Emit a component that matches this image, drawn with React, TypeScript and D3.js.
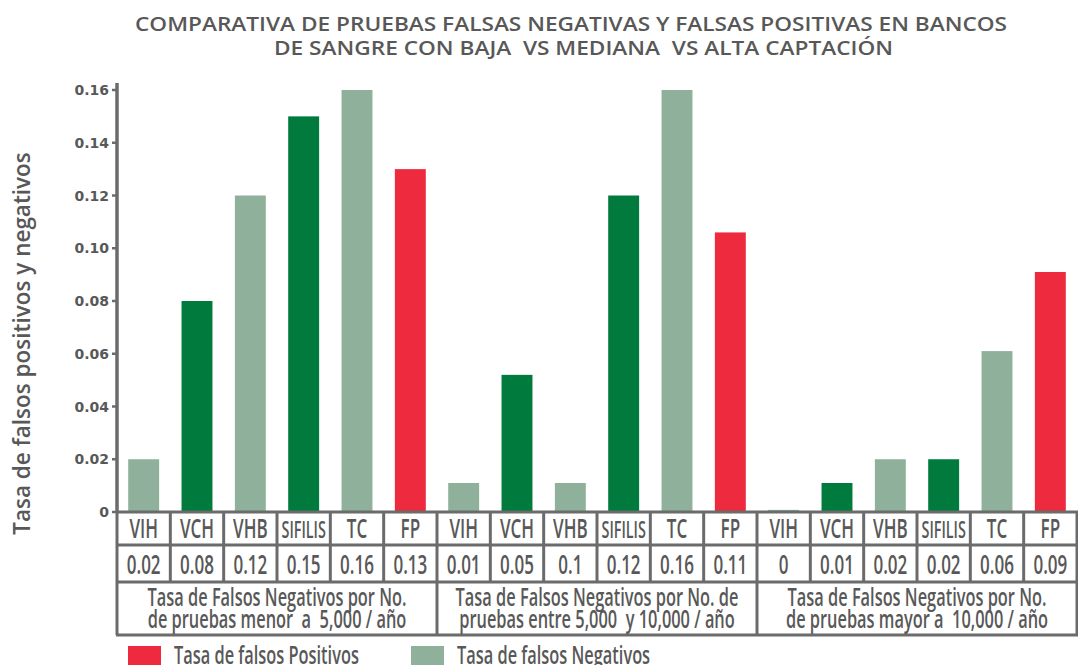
import React, { useEffect, useRef } from "react";
import * as d3 from "d3";

const TITLE_LINES = [
  "COMPARATIVA DE PRUEBAS FALSAS NEGATIVAS Y FALSAS POSITIVAS EN BANCOS",
  "DE SANGRE CON BAJA  VS MEDIANA  VS ALTA CAPTACIÓN",
];
const Y_TITLE = "Tasa de falsos positivos y negativos";

const TESTS = ["VIH", "VCH", "VHB", "SIFILIS", "TC", "FP"];
const TEST_KIND = ["negLight", "negDark", "negLight", "negDark", "negLight", "pos"];

const GROUPS = ["menor", "entre", "mayor"];
const GROUP_LABELS = [
  ["Tasa de Falsos Negativos por No.", "de pruebas menor  a  5,000 / año"],
  ["Tasa de Falsos Negativos por No. de", "pruebas entre 5,000  y 10,000 / año"],
  ["Tasa de Falsos Negativos por No.", "de pruebas mayor a  10,000 / año"],
];

// bar heights as drawn
const VALUES_LOW = [0.02, 0.08, 0.12, 0.15, 0.16, 0.13];
const VALUES_MID = [0.011, 0.052, 0.011, 0.12, 0.16, 0.106];
const VALUES_HIGH = [0.0008, 0.011, 0.02, 0.02, 0.061, 0.091];
// data-table labels
const LABELS_LOW = ["0.02", "0.08", "0.12", "0.15", "0.16", "0.13"];
const LABELS_MID = ["0.01", "0.05", "0.1", "0.12", "0.16", "0.11"];
const LABELS_HIGH = ["0", "0.01", "0.02", "0.02", "0.06", "0.09"];

const Y_TICKS = [0, 0.02, 0.04, 0.06, 0.08, 0.1, 0.12, 0.14, 0.16];
const Y_TICK_LABELS = ["0", "0.02", "0.04", "0.06", "0.08", "0.10", "0.12", "0.14", "0.16"];

const LEGEND_LABELS = ["Tasa de falsos Positivos", "Tasa de falsos Negativos"];
const LEGEND_KINDS = ["pos", "negLight"];

const COLORS: Record<string, string> = {
  negLight: "#8fb09b",
  negDark: "#007a3d",
  pos: "#ee2a3e",
};

const W = 1078;
const H = 665;
const LEFT = 117;
const RIGHT = 1077;
const Y0 = 512;
const YTOP = 90;
const ROW1 = 545;
const ROW2 = 582;
const ROW3 = 635;
const TEXT = "#585858";
const GRID = "#6b6b6b";
const COND = 0.63;
const FONT = "'Open Sans', 'Noto Sans', sans-serif";

export default function App() {
  const ref = useRef<SVGSVGElement>(null);

  useEffect(() => {
    const svg = d3.select(ref.current);
    svg.selectAll("*").remove();

    const valueSets = [VALUES_LOW, VALUES_MID, VALUES_HIGH];
    const labelSets = [LABELS_LOW, LABELS_MID, LABELS_HIGH];
    const rows = GROUPS.flatMap((g, gi) =>
      TESTS.map((t, ti) => ({
        key: `${g}-${t}`,
        group: gi,
        test: t,
        kind: TEST_KIND[ti],
        value: valueSets[gi][ti],
        label: labelSets[gi][ti],
      }))
    );

    const pad = 0.42;
    const x = d3
      .scaleBand<string>()
      .domain(rows.map((r) => r.key))
      .range([LEFT, RIGHT])
      .paddingInner(pad)
      .paddingOuter(pad / 2);
    const step = x.step();
    const colLeft = (k: string) => (x(k) as number) - (step * pad) / 2;

    const y = d3.scaleLinear().domain([0, 0.16]).range([Y0, YTOP]);

    // Title
    const titleG = svg.append("g");
    const titleSpec = [
      { x: 135, y: 31, len: 872 },
      { x: 274, y: 55, len: 619 },
    ];
    TITLE_LINES.forEach((line, i) => {
      titleG
        .append("text")
        .attr("x", titleSpec[i].x)
        .attr("y", titleSpec[i].y)
        .attr("textLength", titleSpec[i].len)
        .attr("lengthAdjust", "spacingAndGlyphs")
        .attr("font-family", FONT)
        .attr("font-weight", 600)
        .attr("font-size", 20.5)
        .attr("fill", TEXT)
        .style("white-space", "pre")
        .text(line);
    });

    // Y axis title
    svg
      .append("text")
      .attr("transform", `translate(30, ${(150 + 537) / 2}) rotate(-90)`)
      .attr("text-anchor", "middle")
      .attr("font-family", FONT)
      .attr("font-size", 22.5)
      .attr("font-weight", 600)
      .attr("fill", TEXT)
      .text(Y_TITLE);

    // Bars
    svg
      .append("g")
      .selectAll("rect")
      .data(rows)
      .join("rect")
      .attr("x", (d) => x(d.key) as number)
      .attr("width", x.bandwidth())
      .attr("y", (d) => y(d.value))
      .attr("height", (d) => Y0 - y(d.value))
      .attr("fill", (d) => COLORS[d.kind]);

    // Y axis
    const axisG = svg.append("g");
    axisG
      .append("line")
      .attr("x1", LEFT)
      .attr("x2", LEFT)
      .attr("y1", y(0.1627))
      .attr("y2", Y0 + 1)
      .attr("stroke", GRID)
      .attr("stroke-width", 3.5);
    Y_TICKS.forEach((t, i) => {
      axisG
        .append("line")
        .attr("x1", LEFT - 5)
        .attr("x2", LEFT)
        .attr("y1", y(t))
        .attr("y2", y(t))
        .attr("stroke", GRID)
        .attr("stroke-width", 2.5);
      axisG
        .append("text")
        .attr("x", LEFT - 8)
        .attr("y", y(t))
        .attr("dy", "0.36em")
        .attr("text-anchor", "end")
        .attr("font-family", "'DejaVu Sans', Verdana, sans-serif")
        .attr("font-weight", "bold")
        .attr("font-size", 14)
        .attr("fill", TEXT)
        .text(Y_TICK_LABELS[i]);
    });

    // Table lines
    const tg = svg.append("g").attr("stroke", GRID).attr("stroke-width", 3);
    tg.append("line").attr("x1", LEFT - 1).attr("x2", RIGHT + 1).attr("y1", Y0).attr("y2", Y0);
    tg.append("line").attr("x1", LEFT).attr("x2", RIGHT).attr("y1", ROW1).attr("y2", ROW1);
    tg.append("line").attr("x1", LEFT).attr("x2", RIGHT).attr("y1", ROW2).attr("y2", ROW2);
    tg.append("line").attr("x1", LEFT - 1).attr("x2", RIGHT + 1).attr("y1", ROW3).attr("y2", ROW3);
    rows.forEach((r, i) => {
      const cx = colLeft(r.key);
      const isGroupEdge = i % TESTS.length === 0;
      tg.append("line")
        .attr("x1", cx)
        .attr("x2", cx)
        .attr("y1", Y0)
        .attr("y2", isGroupEdge ? ROW3 : ROW2);
    });
    tg.append("line").attr("x1", RIGHT).attr("x2", RIGHT).attr("y1", Y0).attr("y2", ROW3);

    // Condensed text helper
    const condText = (
      cx: number,
      by: number,
      str: string,
      size: number,
      maxW: number,
      anchor = "middle"
    ) => {
      const t = svg
        .append("text")
        .attr("transform", `translate(${cx}, ${by}) scale(${COND}, 1)`)
        .attr("text-anchor", anchor)
        .attr("font-family", FONT)
        .attr("font-weight", 600)
        .attr("font-size", size)
        .attr("fill", TEXT)
        .style("white-space", "pre")
        .text(str);
      const w = (t.node() as SVGTextElement).getComputedTextLength() * COND;
      if (w > maxW) {
        t.attr("font-size", (size * maxW) / w);
      }
      return t;
    };

    // Table texts
    rows.forEach((r) => {
      const cx = (x(r.key) as number) + x.bandwidth() / 2;
      condText(cx, 537.5, r.test, 27, step - 9);
      condText(cx, 573.5, r.label, 27, step - 6);
    });
    GROUPS.forEach((g, gi) => {
      const first = rows[gi * TESTS.length].key;
      const last = rows[gi * TESTS.length + TESTS.length - 1].key;
      const gx0 = colLeft(first);
      const gx1 = colLeft(last) + step;
      const gcx = (gx0 + gx1) / 2;
      condText(gcx, 605.5, GROUP_LABELS[gi][0], 26, gx1 - gx0 - 8);
      condText(gcx, 628, GROUP_LABELS[gi][1], 26, gx1 - gx0 - 8);
    });

    // Legend
    const legendX = [128, 411];
    LEGEND_LABELS.forEach((lab, i) => {
      svg
        .append("rect")
        .attr("x", legendX[i])
        .attr("y", 646)
        .attr("width", 33)
        .attr("height", 22)
        .attr("fill", COLORS[LEGEND_KINDS[i]]);
      condText(legendX[i] + 46, 664, lab, 26, 400, "start");
    });
  }, []);

  return (
    <svg
      ref={ref}
      width={W}
      height={H}
      style={{ position: "absolute", left: 0, top: 0, background: "#fff", display: "block" }}
    />
  );
}
